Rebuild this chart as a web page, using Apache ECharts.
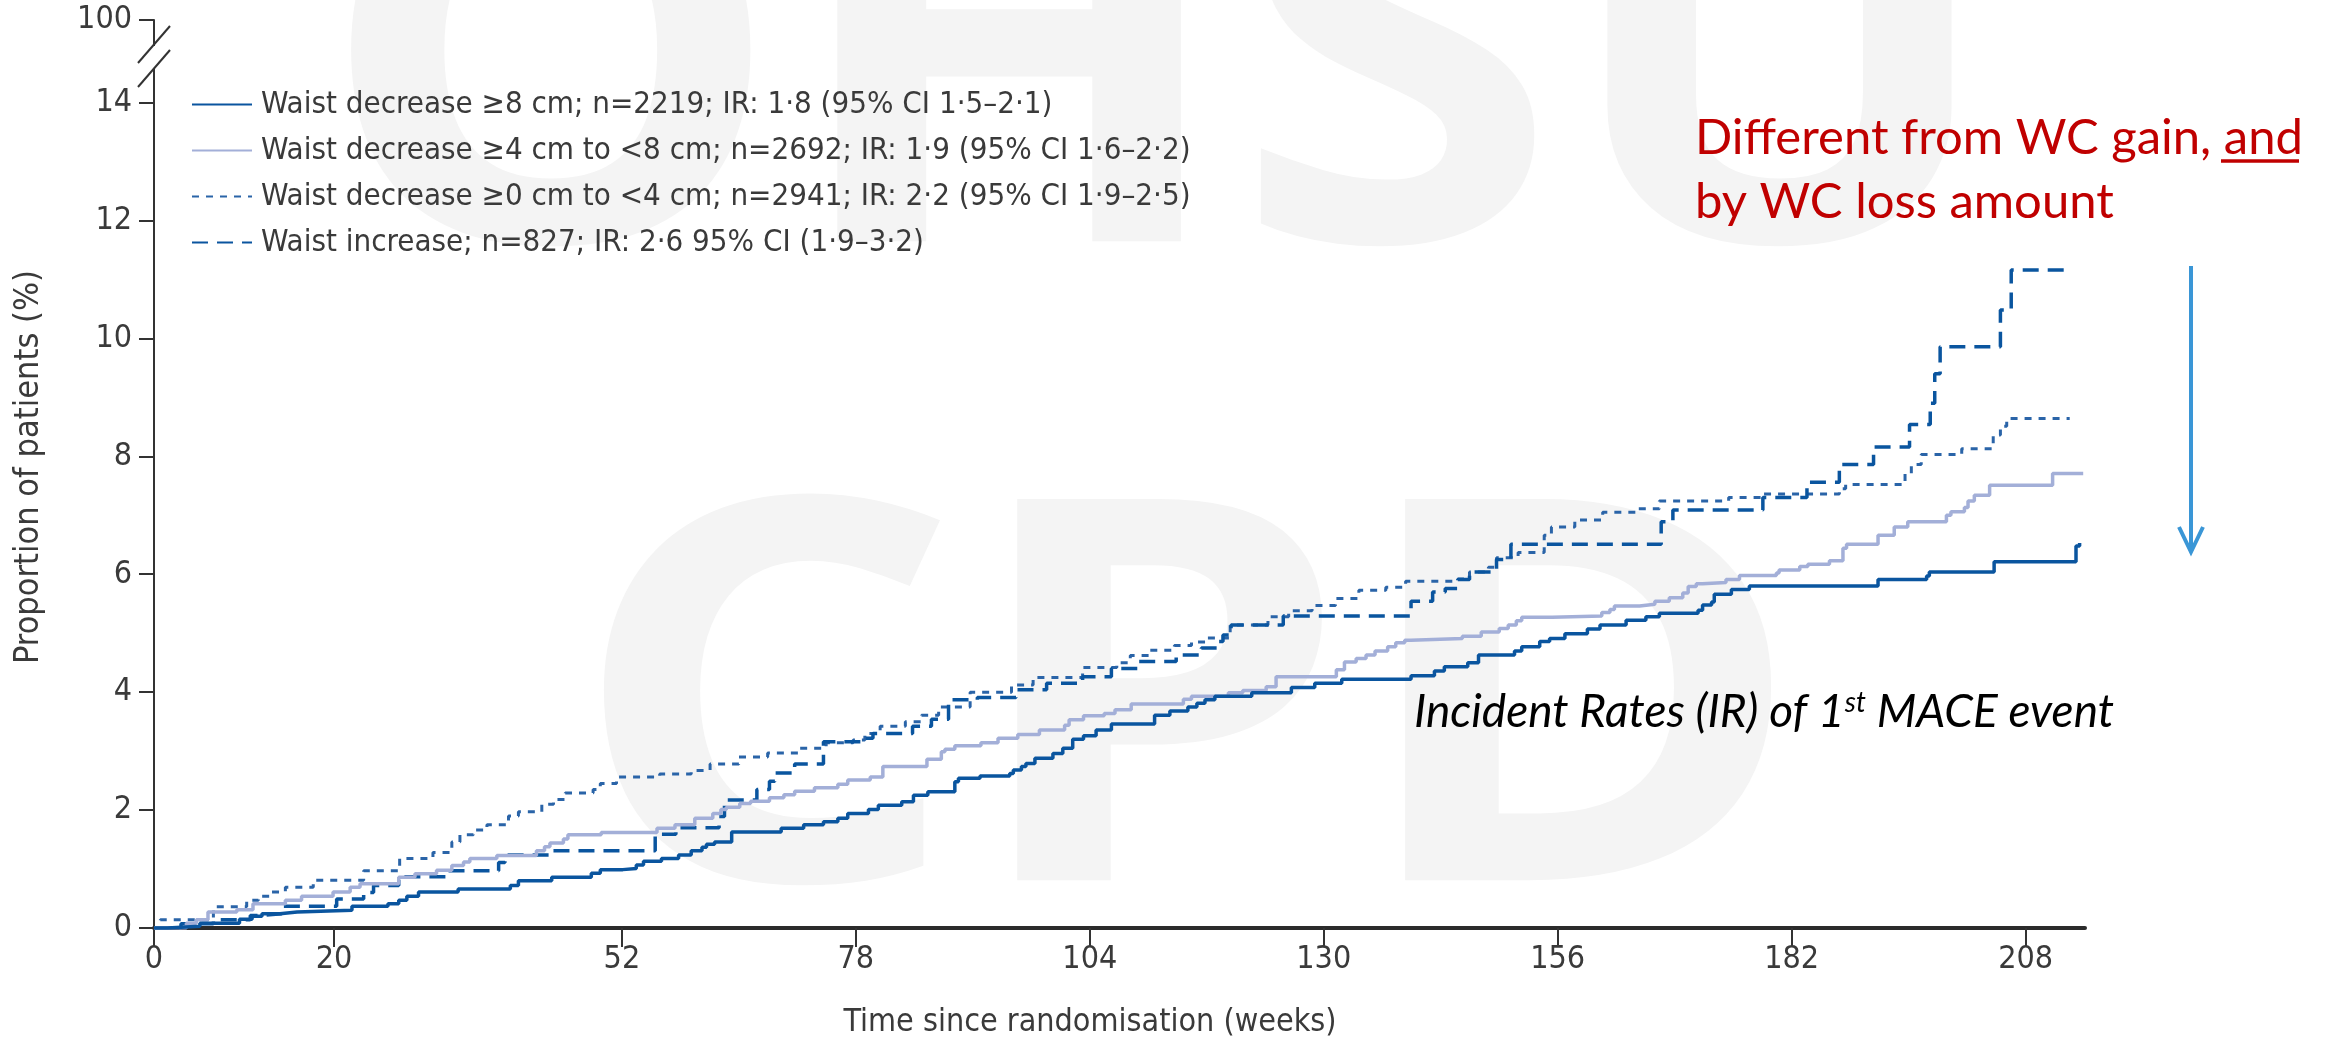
<!DOCTYPE html>
<html>
<head>
<meta charset="utf-8">
<script src="https://cdn.jsdelivr.net/npm/echarts@6/dist/echarts.min.js"></script>
<style>
  html, body { margin: 0; padding: 0; background: #fff; }
  #chart { width: 2325px; height: 1041px; }
</style>
</head>
<body>
<div id="chart"></div>
<script>
// x ticks (weeks) and y ticks; the top tick stands for 100 % above the axis break
const weekTicks = [0, 20, 52, 78, 104, 130, 156, 182, 208];
const yTicks = [0, 2, 4, 6, 8, 10, 12, 14, 15.4];
const yTickLabels = ['0', '2', '4', '6', '8', '10', '12', '14', '100'];

const seriesNames = [
  'Waist decrease ≥8 cm; n=2219; IR: 1·8 (95% CI 1·5–2·1)',
  'Waist decrease ≥4 cm to <8 cm; n=2692; IR: 1·9 (95% CI 1·6–2·2)',
  'Waist decrease ≥0 cm to <4 cm; n=2941; IR: 2·2 (95% CI 1·9–2·5)',
  'Waist increase; n=827; IR: 2·6 95% CI (1·9–3·2)'
];

// [week, cumulative %]
const dec8 = [[0,0],[1.5,0.03],[5.1,0.08],[9.5,0.15],[10.9,0.2],[12,0.24],[14,0.27],[15.9,0.3],[22,0.37],[26,0.41],[27.2,0.47],[28.1,0.54],[29.4,0.61],[33.8,0.66],[39.6,0.72],[40.5,0.8],[44.2,0.86],[48.6,0.93],[49.6,0.99],[52.1,1.01],[53.6,1.07],[54.4,1.13],[56.4,1.18],[58.3,1.24],[59.7,1.31],[60.9,1.37],[61.4,1.42],[62.3,1.46],[64.2,1.63],[69.7,1.69],[72.2,1.75],[74.4,1.8],[76,1.86],[77.1,1.94],[79.4,2.01],[80.5,2.08],[83.1,2.14],[84.4,2.25],[86,2.31],[89,2.48],[89.4,2.54],[91.8,2.58],[95.1,2.62],[95.5,2.68],[96.4,2.74],[96.9,2.79],[97.9,2.88],[99.9,2.96],[101,3.05],[102.1,3.2],[103.3,3.26],[104.7,3.36],[106.4,3.46],[111.2,3.61],[112.9,3.68],[114.9,3.75],[115.9,3.81],[116.8,3.87],[117.9,3.93],[122,3.99],[126.4,4.08],[129,4.15],[132,4.22],[139.7,4.28],[142.3,4.36],[143.4,4.43],[146,4.5],[147.2,4.63],[151.2,4.7],[152,4.77],[154,4.86],[155.1,4.91],[156.8,4.99],[159.3,5.07],[160.7,5.14],[163.6,5.22],[165.8,5.28],[167.3,5.34],[171.6,5.39],[172.1,5.48],[173.1,5.53],[173.4,5.66],[175.3,5.74],[177.3,5.8],[191.6,5.91],[197,5.97],[197.3,6.04],[204.5,6.21],[213.6,6.48],[214,6.53]];

const dec4 = [[0,0],[3.6,0.08],[4.7,0.14],[6,0.27],[9.2,0.31],[11,0.41],[14.6,0.47],[16.4,0.54],[19.9,0.61],[21.8,0.69],[22.9,0.75],[27.2,0.86],[29,0.92],[31.4,0.98],[33.1,1.06],[34.4,1.12],[35.1,1.18],[38.1,1.23],[42.5,1.31],[43.4,1.38],[44,1.44],[45.5,1.51],[46,1.58],[49.7,1.62],[55.9,1.69],[57.9,1.75],[60.1,1.86],[62.1,1.94],[63,2.01],[63.6,2.05],[65.1,2.11],[66.3,2.15],[68.4,2.21],[70,2.26],[71.2,2.32],[73.4,2.38],[76,2.44],[77.1,2.51],[79.6,2.56],[81,2.74],[85.9,2.86],[87.5,2.99],[87.9,3.03],[89,3.09],[91.9,3.14],[93.8,3.22],[96,3.28],[98.4,3.36],[101.2,3.44],[101.7,3.53],[103.3,3.6],[105.6,3.64],[106.8,3.7],[108.6,3.8],[114.4,3.88],[115.3,3.93],[119.4,3.99],[121,4.03],[123.6,4.09],[124.7,4.26],[131.4,4.38],[132.3,4.51],[133.6,4.57],[134.7,4.63],[135.7,4.7],[137.1,4.77],[138,4.84],[139,4.88],[139.7,4.91],[145.4,4.95],[147.5,5.02],[149.5,5.08],[150.5,5.14],[151.4,5.21],[152,5.27],[155.4,5.29],[160.9,5.35],[161.8,5.4],[162.3,5.46],[165.1,5.49],[166.8,5.54],[168.4,5.6],[169.9,5.68],[170.5,5.79],[171.4,5.84],[172.1,5.86],[174.7,5.91],[176.2,5.98],[180.3,6.02],[180.6,6.07],[182.9,6.13],[183.8,6.17],[186.2,6.23],[187.7,6.44],[188.1,6.51],[191.6,6.66],[193.4,6.8],[194.9,6.89],[199.2,7],[199.7,7.06],[201.2,7.13],[201.6,7.24],[202.3,7.34],[204,7.51],[211,7.71],[214.4,7.71]];

const dec0 = [[0,0],[0.7,0.14],[6.6,0.36],[10.3,0.47],[11.6,0.54],[12.9,0.61],[14.6,0.69],[17.7,0.81],[23.3,0.97],[27.3,1.18],[31,1.28],[33.1,1.46],[34,1.58],[35.5,1.66],[37,1.75],[39.4,1.9],[40.5,1.97],[43.1,2.1],[44.4,2.18],[45.7,2.29],[48.8,2.35],[49.6,2.45],[51.4,2.56],[56.2,2.61],[59.7,2.67],[61.8,2.78],[65,2.9],[68.2,2.97],[71.8,3.05],[74.7,3.14],[77.7,3.19],[79,3.3],[80.7,3.42],[83.5,3.5],[85.3,3.61],[87.2,3.75],[90.7,4],[95.3,4.12],[97.7,4.25],[103.2,4.42],[107,4.5],[108.5,4.62],[110.7,4.71],[113.4,4.79],[115.3,4.85],[117,4.92],[119.6,5.14],[123.8,5.28],[126.1,5.38],[128.7,5.47],[131.3,5.59],[133.9,5.73],[136.9,5.78],[139.1,5.88],[144.9,5.92],[146.2,6.04],[148.3,6.12],[149.2,6.28],[151.6,6.37],[154.5,6.66],[155.3,6.8],[157.9,6.92],[161,7.05],[165,7.11],[167.3,7.24],[175,7.3],[178.8,7.36],[187.3,7.45],[188,7.52],[194.6,7.71],[195.3,7.86],[196.4,8.03],[200.9,8.13],[204.4,8.36],[205.2,8.51],[205.9,8.64],[212.9,8.64]];

const inc = [[0,0],[3,0.07],[6.6,0.14],[10.7,0.21],[11.5,0.24],[14.2,0.37],[20.3,0.49],[23.3,0.6],[24.4,0.72],[27.2,0.87],[32.5,0.97],[38.3,1.11],[39,1.24],[44.2,1.31],[55.7,1.59],[58,1.7],[62.8,1.89],[63.4,2.17],[67,2.35],[68.4,2.49],[69,2.63],[71.2,2.78],[74.4,3.16],[78.8,3.22],[79.9,3.3],[84.3,3.42],[86.4,3.54],[88.3,3.87],[91.5,3.91],[95.8,4.04],[99.2,4.15],[103.2,4.26],[106.4,4.4],[109.4,4.52],[113.6,4.63],[116.4,4.75],[118.3,4.86],[118.8,4.97],[119.7,5.14],[125.5,5.29],[139.7,5.54],[142.1,5.7],[143.5,5.76],[144.9,5.91],[146.2,6.04],[149.2,6.25],[150.8,6.51],[167.5,6.89],[168.8,7.09],[178.8,7.3],[183.7,7.56],[187.3,7.86],[191.1,8.16],[195.1,8.54],[197.4,8.9],[197.9,9.4],[198.5,9.86],[205.2,10.48],[206.4,11.16],[212.8,11.16]];

const narrow = '"Liberation Sans Narrow", "DejaVu Sans Condensed", "Roboto", sans-serif';
const axisGrey = '#333';
const textGrey = '#3a3a3a';

const chart = echarts.init(document.getElementById('chart'));

function stepSeries(name, data, color, width, type, z) {
  return {
    name: name,
    type: 'line',
    step: 'end',
    data: data,
    symbol: 'none',
    showSymbol: false,
    z: z,
    lineStyle: { color: color, width: width, type: type },
    itemStyle: { color: color },
    emphasis: { disabled: true }
  };
}

chart.setOption({
  animation: false,
  backgroundColor: '#fff',
  grid: { left: 154, right: 240, top: 20, bottom: 113, outerBoundsMode: 'none' },
  legend: {
    orient: 'vertical',
    left: 191,
    top: 89,
    padding: 0,
    itemWidth: 60,
    itemHeight: 14,
    itemGap: 15,
    itemStyle: { opacity: 0 },
    textStyle: { fontSize: 31, color: textGrey, fontFamily: narrow, padding: [0, 0, 0, 4] },
    data: seriesNames
  },
  xAxis: {
    type: 'value',
    min: 0,
    max: 214.6,
    name: 'Time since randomisation (weeks)',
    nameLocation: 'middle',
    nameGap: 79,
    nameTextStyle: { fontSize: 32, color: textGrey, fontFamily: narrow, padding: [0, 59, 0, 0] },
    axisLine: { lineStyle: { color: '#2b2b2b', width: 4 } },
    axisTick: { customValues: weekTicks, length: 19, lineStyle: { color: axisGrey, width: 2 } },
    axisLabel: { customValues: weekTicks, margin: 16, fontSize: 32, color: textGrey, fontFamily: narrow },
    splitLine: { show: false }
  },
  yAxis: {
    type: 'value',
    min: 0,
    max: 15.4,
    name: 'Proportion of patients (%)',
    nameLocation: 'middle',
    nameGap: 108,
    nameTextStyle: { fontSize: 34, color: textGrey, fontFamily: narrow, padding: [0, 0, 0, 14] },
    axisLine: { show: true, lineStyle: { color: axisGrey, width: 2 } },
    axisTick: { show: true, customValues: yTicks, length: 15, lineStyle: { color: axisGrey, width: 2 } },
    axisLabel: {
      customValues: yTicks, margin: 22, fontSize: 32, color: textGrey, fontFamily: narrow,
      formatter: function (v) { return yTickLabels[yTicks.indexOf(v)]; }
    },
    splitLine: { show: false }
  },
  series: [
    stepSeries(seriesNames[0], dec8, '#0a559f', 3.5, 'solid', 5),
    stepSeries(seriesNames[1], dec4, '#a3afd8', 3.5, 'solid', 4),
    stepSeries(seriesNames[2], dec0, '#2a64a8', 3, [7, 7], 3),
    stepSeries(seriesNames[3], inc, '#0a559f', 3.5, [16, 9], 3)
  ],
  graphic: [
    // faint watermark letters
    { type: 'text', z: -10, silent: true, x: 317, y: 89, scaleX: 1.1,
      style: { text: 'OHSU', x: 0, y: 0, font: 'bold 534px "Open Sans"', fill: '#f4f4f4',
               textAlign: 'left', textVerticalAlign: 'middle', align: 'left', verticalAlign: 'middle' } },
    { type: 'text', z: -10, silent: true, x: 568, y: 728, scaleX: 1.157,
      style: { text: 'CPD', x: 0, y: 0, font: 'bold 534px "Open Sans"', fill: '#f4f4f4',
               textAlign: 'left', textVerticalAlign: 'middle', align: 'left', verticalAlign: 'middle' } },
    // axis break
    { type: 'rect', z: 50, silent: true, shape: { x: 148, y: 46, width: 11, height: 22 }, style: { fill: '#fff' } },
    { type: 'line', z: 51, silent: true, shape: { x1: 170, y1: 26, x2: 138, y2: 63 }, style: { stroke: axisGrey, lineWidth: 2 } },
    { type: 'line', z: 51, silent: true, shape: { x1: 170, y1: 50, x2: 138, y2: 87 }, style: { stroke: axisGrey, lineWidth: 2 } },
    // red note
    { type: 'text', z: 60, silent: true,
      style: { text: 'Different from WC gain, and', x: 1695, y: 138, font: '49px Lato', fill: '#c00000',
               textAlign: 'left', textVerticalAlign: 'middle', align: 'left', verticalAlign: 'middle' } },
    { type: 'line', z: 60, silent: true, shape: { x1: 2221, y1: 161, x2: 2299, y2: 161 }, style: { stroke: '#c00000', lineWidth: 3.5 } },
    { type: 'text', z: 60, silent: true,
      style: { text: 'by WC loss amount', x: 1695, y: 202, font: '49px Lato', fill: '#c00000',
               textAlign: 'left', textVerticalAlign: 'middle', align: 'left', verticalAlign: 'middle' } },
    // blue arrow
    { type: 'line', z: 60, silent: true, shape: { x1: 2191, y1: 266, x2: 2191, y2: 552 }, style: { stroke: '#3a96d6', lineWidth: 4 } },
    { type: 'polyline', z: 60, silent: true, shape: { points: [[2179, 527], [2191, 552], [2203, 527]] },
      style: { stroke: '#3a96d6', lineWidth: 4, fill: null } },
    // italic caption
    { type: 'text', z: 60, silent: true,
      style: {
        text: '{a|Incident Rates (IR) of 1}{s|st}{a| MACE event}', x: 1414, y: 712,
        textAlign: 'left', textVerticalAlign: 'middle', align: 'left', verticalAlign: 'middle',
        rich: {
          a: { fontSize: 46, fontStyle: 'italic', fontFamily: 'Lato', color: '#111' },
          s: { fontSize: 28, fontStyle: 'italic', fontFamily: 'Lato', color: '#111', verticalAlign: 'top', padding: [0, 0, 14, 0] }
        }
      } }
  ]
});
</script>
</body>
</html>
